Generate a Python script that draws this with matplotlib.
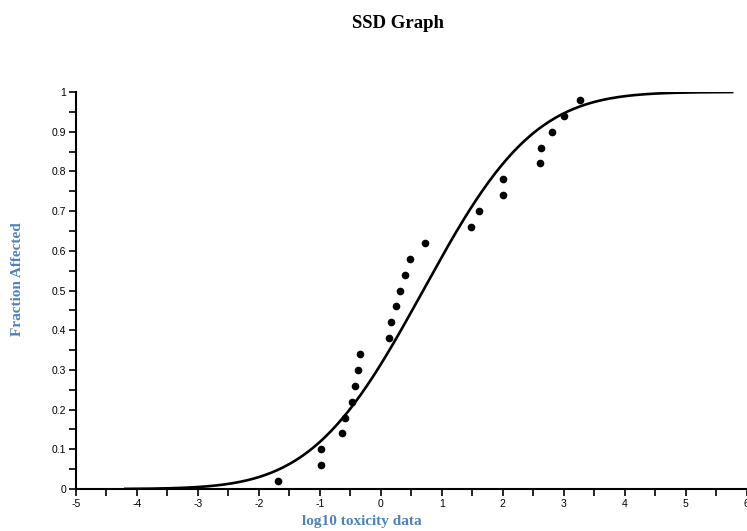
import math
import numpy as np
from matplotlib import pyplot as plt
from matplotlib.ticker import MultipleLocator

# toxicity data (log10) and plotting positions
log_tox = [-1.69, -0.98, -0.98, -0.64, -0.59, -0.48, -0.43, -0.38, -0.34,
           0.13, 0.16, 0.25, 0.31, 0.39, 0.48, 0.72, 1.48, 1.61, 2.0, 2.0,
           2.61, 2.62, 2.8, 3.0, 3.26]
frac = [0.02, 0.06, 0.10, 0.14, 0.18, 0.22, 0.26, 0.30, 0.34, 0.38, 0.42,
        0.46, 0.50, 0.54, 0.58, 0.62, 0.66, 0.70, 0.74, 0.78, 0.82, 0.86,
        0.90, 0.94, 0.98]
y_ticks = [0, 0.1, 0.2, 0.3, 0.4, 0.5, 0.6, 0.7, 0.8, 0.9, 1]
y_labels = ['0', '0.1', '0.2', '0.3', '0.4', '0.5', '0.6', '0.7', '0.8', '0.9', '1']
x_ticks = [-5, -4, -3, -2, -1, 0, 1, 2, 3, 4, 5, 6]

# fitted log-normal SSD from the data
mu = np.mean(log_tox)
sd = np.std(log_tox, ddof=1)
xs = np.linspace(min(log_tox) - 2.5, max(log_tox) + 2.5, 300)
cdf = [0.5 * (1 + math.erf((x - mu) / (sd * math.sqrt(2)))) for x in xs]

fig = plt.figure(figsize=(7.47, 5.31), dpi=100)
ax = fig.add_axes([0.1017, 0.0791, 0.898, 0.7476])

ax.plot(xs, cdf, color='black', linewidth=1.9)
ax.plot(log_tox, frac, 'o', color='black', markersize=4.5)

ax.set_xlim(-5, 6)
ax.set_ylim(0, 1)
ax.set_xticks(x_ticks)
ax.set_xticklabels([str(v) for v in x_ticks])
ax.set_yticks(y_ticks)
ax.set_yticklabels(y_labels)
ax.xaxis.set_minor_locator(MultipleLocator(0.5))
ax.yaxis.set_minor_locator(MultipleLocator(0.05))

ax.spines['top'].set_visible(False)
ax.spines['right'].set_visible(False)
ax.spines['left'].set_linewidth(1.5)
ax.spines['bottom'].set_linewidth(1.5)
ax.tick_params(which='both', direction='out', width=1.2, length=5,
               labelsize=7.5, pad=2)
for lab in ax.get_xticklabels() + ax.get_yticklabels():
    lab.set_family('Liberation Sans')

fig.text(0.533, 0.955, 'SSD Graph', ha='center', va='center',
         family='Liberation Serif', weight='bold', fontsize=13.5)
fig.text(0.484, 0.018, 'log10 toxicity data', ha='center', va='center',
         family='Liberation Serif', weight='bold', fontsize=11, color='#4f81bd')
fig.text(0.023, 0.475, 'Fraction Affected', ha='center', va='center', rotation=90,
         family='Liberation Serif', weight='bold', fontsize=11, color='#4f81bd')

fig.savefig('out.png', dpi=100)
